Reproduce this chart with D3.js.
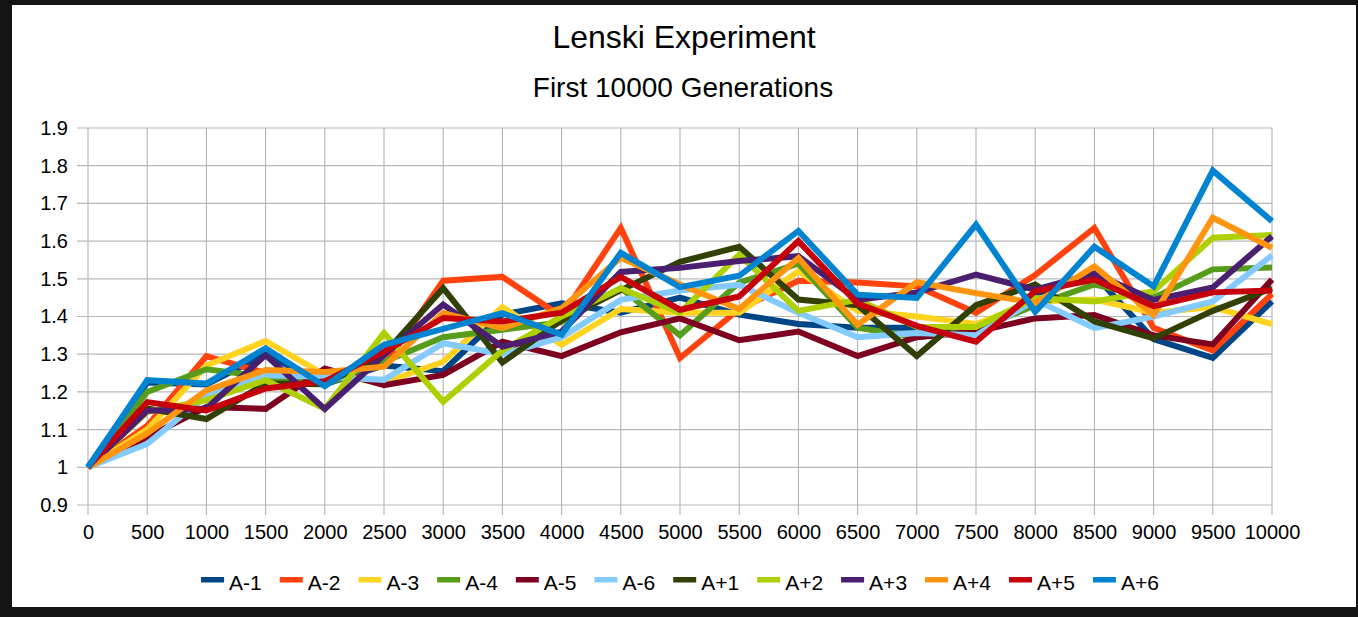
<!DOCTYPE html>
<html>
<head>
  <meta charset="utf-8">
  <title>Lenski Experiment</title>
  <script src="https://d3js.org/d3.v7.min.js"></script>
  <style>
    body { margin: 0; background: #141414; }
    svg { display: block; }
  </style>
</head>
<body>
  <script>
    var generations = [0, 500, 1000, 1500, 2000, 2500, 3000, 3500, 4000, 4500, 5000,
                       5500, 6000, 6500, 7000, 7500, 8000, 8500, 9000, 9500, 10000];
    var yTicks = [0.9, 1, 1.1, 1.2, 1.3, 1.4, 1.5, 1.6, 1.7, 1.8, 1.9];
    var seriesNames = ['A-1', 'A-2', 'A-3', 'A-4', 'A-5', 'A-6', 'A+1', 'A+2', 'A+3', 'A+4', 'A+5', 'A+6'];
    var seriesColors = ['#004586', '#ff420e', '#ffd320', '#579d1c', '#7e0021', '#83caff',
                        '#314004', '#aecf00', '#4b1f6f', '#ff950e', '#c5000b', '#0084d1'];

    var aMinus1 = [1.00, 1.225, 1.22, 1.30, 1.22, 1.27, 1.255, 1.405, 1.435, 1.41, 1.45, 1.405, 1.38, 1.37, 1.37, 1.345, 1.46, 1.51, 1.34, 1.29, 1.44];
    var aMinus2 = [1.00, 1.11, 1.295, 1.25, 1.245, 1.27, 1.495, 1.505, 1.40, 1.635, 1.29, 1.42, 1.495, 1.49, 1.48, 1.41, 1.51, 1.635, 1.37, 1.31, 1.46];
    var aMinus3 = [1.00, 1.10, 1.27, 1.335, 1.245, 1.225, 1.28, 1.425, 1.325, 1.42, 1.41, 1.41, 1.52, 1.415, 1.40, 1.38, 1.44, 1.445, 1.41, 1.425, 1.38];
    var aMinus4 = [1.00, 1.20, 1.26, 1.24, 1.22, 1.28, 1.345, 1.365, 1.385, 1.475, 1.35, 1.49, 1.54, 1.37, 1.345, 1.365, 1.43, 1.485, 1.45, 1.525, 1.53];
    var aMinus5 = [1.00, 1.08, 1.16, 1.155, 1.262, 1.218, 1.245, 1.333, 1.295, 1.358, 1.395, 1.337, 1.36, 1.295, 1.345, 1.36, 1.395, 1.404, 1.35, 1.326, 1.498];
    var aMinus6 = [1.00, 1.062, 1.19, 1.244, 1.24, 1.232, 1.329, 1.30, 1.345, 1.444, 1.469, 1.484, 1.41, 1.345, 1.356, 1.35, 1.444, 1.369, 1.40, 1.44, 1.562];
    var aPlus1 = [1.00, 1.156, 1.128, 1.222, 1.22, 1.30, 1.475, 1.278, 1.39, 1.47, 1.545, 1.585, 1.445, 1.43, 1.295, 1.43, 1.485, 1.387, 1.342, 1.415, 1.475];
    var aPlus2 = [1.00, 1.147, 1.178, 1.231, 1.155, 1.356, 1.174, 1.31, 1.40, 1.475, 1.41, 1.564, 1.415, 1.444, 1.373, 1.372, 1.449, 1.44, 1.467, 1.609, 1.616];
    var aPlus3 = [1.00, 1.15, 1.156, 1.298, 1.155, 1.298, 1.432, 1.32, 1.36, 1.518, 1.529, 1.547, 1.56, 1.444, 1.464, 1.511, 1.471, 1.514, 1.444, 1.477, 1.613];
    var aPlus4 = [1.00, 1.09, 1.204, 1.258, 1.253, 1.267, 1.409, 1.369, 1.422, 1.556, 1.485, 1.42, 1.555, 1.378, 1.491, 1.462, 1.436, 1.533, 1.404, 1.662, 1.582];
    var aPlus5 = [1.00, 1.173, 1.151, 1.209, 1.228, 1.307, 1.396, 1.387, 1.41, 1.505, 1.418, 1.453, 1.60, 1.434, 1.375, 1.333, 1.467, 1.498, 1.427, 1.464, 1.469];
    var aPlus6 = [1.00, 1.231, 1.222, 1.316, 1.215, 1.325, 1.367, 1.409, 1.352, 1.569, 1.478, 1.508, 1.627, 1.458, 1.449, 1.644, 1.412, 1.585, 1.48, 1.787, 1.653];

    var seriesValues = [aMinus1, aMinus2, aMinus3, aMinus4, aMinus5, aMinus6,
                        aPlus1, aPlus2, aPlus3, aPlus4, aPlus5, aPlus6];

    var width = 1358, height = 617;
    var margin = { top: 128, right: 86, bottom: 112, left: 88 };
    var plotW = width - margin.left - margin.right;
    var plotH = height - margin.top - margin.bottom;
    var font = '"Liberation Sans", Arial, sans-serif';
    var gridColor = '#b8b8b8';

    var svg = d3.select('body').append('svg')
      .attr('width', width)
      .attr('height', height);

    svg.append('rect')
      .attr('x', 12).attr('y', 5)
      .attr('width', 1344).attr('height', 602)
      .attr('fill', 'white');

    svg.append('text')
      .attr('x', margin.left + plotW / 2 + 4).attr('y', 48)
      .attr('text-anchor', 'middle')
      .style('font', '32px ' + font)
      .text('Lenski Experiment');
    svg.append('text')
      .attr('x', margin.left + plotW / 2 + 3).attr('y', 97)
      .attr('text-anchor', 'middle')
      .style('font', '28px ' + font)
      .text('First 10000 Generations');

    var x = d3.scalePoint().domain(generations).range([0, plotW]);
    var y = d3.scaleLinear().domain([0.9, 1.9]).range([plotH, 0]);

    var g = svg.append('g')
      .attr('transform', 'translate(' + margin.left + ',' + margin.top + ')');

    // grid
    g.append('g').selectAll('line')
      .data(yTicks)
      .enter().append('line')
      .attr('x1', -11).attr('x2', plotW)
      .attr('y1', function (d) { return y(d); })
      .attr('y2', function (d) { return y(d); })
      .attr('stroke', gridColor).attr('stroke-width', 1.2);
    g.append('g').selectAll('line')
      .data(generations)
      .enter().append('line')
      .attr('x1', function (d) { return x(d); })
      .attr('x2', function (d) { return x(d); })
      .attr('y1', 0).attr('y2', plotH + 10)
      .attr('stroke', gridColor).attr('stroke-width', 1.2);

    // axis labels
    var yAxis = d3.axisLeft(y).tickValues(yTicks).tickSize(0).tickPadding(20)
      .tickFormat(function (d) { return d3.format('')(Math.round(d * 10) / 10); });
    var yg = g.append('g').call(yAxis);
    var xAxis = d3.axisBottom(x).tickSize(0).tickPadding(20);
    var xg = g.append('g').attr('transform', 'translate(0,' + plotH + ')').call(xAxis);
    [yg, xg].forEach(function (a) {
      a.select('.domain').remove();
      a.selectAll('text').style('font', '20px ' + font).attr('fill', '#000');
    });

    // lines
    var line = d3.line()
      .x(function (d, i) { return x(generations[i]); })
      .y(function (d) { return y(d); });
    g.append('g').selectAll('path')
      .data(seriesValues)
      .enter().append('path')
      .attr('d', line)
      .attr('fill', 'none')
      .attr('stroke', function (d, i) { return seriesColors[i]; })
      .attr('stroke-width', 6)
      .attr('stroke-linejoin', 'miter');

    // legend
    var legend = svg.append('g');
    var lx = 0, gap = 18;
    seriesNames.forEach(function (name, i) {
      var item = legend.append('g').attr('transform', 'translate(' + lx + ',0)');
      item.append('rect')
        .attr('x', 0).attr('y', -3)
        .attr('width', 23).attr('height', 5.5)
        .attr('fill', seriesColors[i]);
      var t = item.append('text')
        .attr('x', 28).attr('y', 10)
        .style('font', '21px ' + font)
        .text(name);
      lx += 28 + t.node().getComputedTextLength() + gap;
    });
    lx -= gap;
    legend.attr('transform', 'translate(' + (margin.left + plotW / 2 - lx / 2) + ',580)');
  </script>
</body>
</html>
